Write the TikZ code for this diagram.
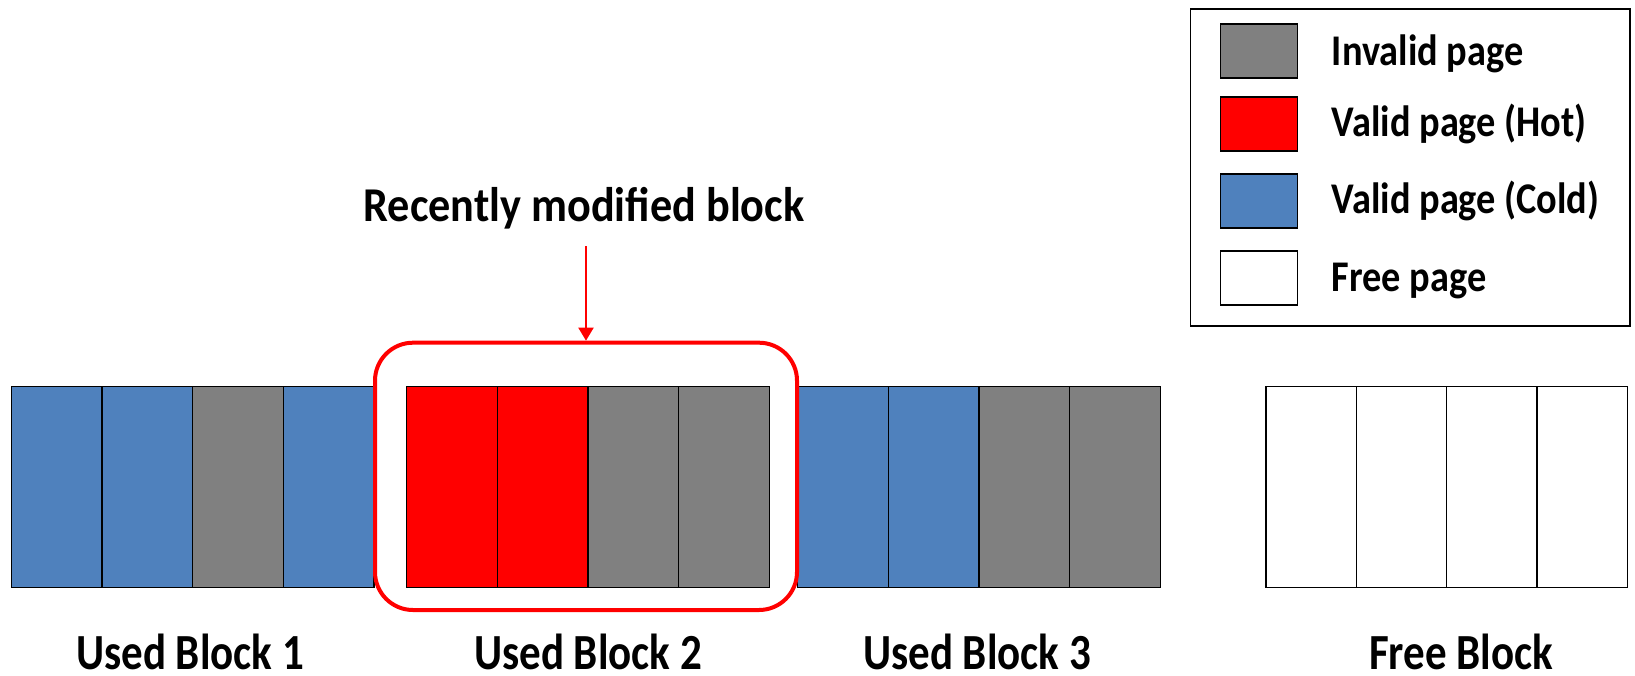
\documentclass[tikz,border=0pt]{standalone}
\usepackage{fontspec}
\setmainfont{Carlito}
\newfontfamily\legfont[FakeStretch=0.875]{Carlito}
\newfontfamily\titfont[FakeStretch=0.91]{Carlito}
\newfontfamily\blkfont[FakeStretch=0.85]{Carlito}
\usetikzlibrary{arrows.meta}
\definecolor{cold}{HTML}{4F81BD}
\definecolor{invalid}{HTML}{808080}
\definecolor{hot}{HTML}{FF0000}
\begin{document}
\begin{tikzpicture}[x=1pt,y=-1pt,
  page/.style={draw=black,line width=1.4pt,minimum width=90.6pt,minimum height=200.6pt,
    inner sep=0pt,outer sep=0pt,anchor=north west},
  swatch/.style={draw=black,line width=1.4pt,minimum width=76.6pt,minimum height=54pt,
    inner sep=0pt,outer sep=0pt,anchor=north west},
  legtext/.style={anchor=base west,inner sep=0pt,font=\legfont\bfseries\fontsize{43.8}{50}\selectfont},
  blklabel/.style={anchor=base,inner sep=0pt,font=\blkfont\bfseries\fontsize{50.6}{60}\selectfont},
  titletext/.style={anchor=base,inner sep=0pt,font=\titfont\bfseries\fontsize{48.6}{56}\selectfont},
  hlbox/.style={draw=hot,line width=4pt,rounded corners=38pt,minimum width=422pt,minimum height=267.3pt,inner sep=0pt},
  hlarrow/.style={draw=hot,line width=2pt,-{Triangle[width=15pt,length=13pt]}}
]
\useasboundingbox (0,0) rectangle (1635,675);

% blocks
\foreach \c [count=\i] in {cold,cold,invalid,cold}
  \node[page,fill=\c] (b1p\i) at ({11.3+(\i-1)*90.65},386.7) {};
\foreach \c [count=\i] in {hot,hot,invalid,invalid}
  \node[page,fill=\c] (b2p\i) at ({406.7+(\i-1)*90.65},386.7) {};
\foreach \c [count=\i] in {cold,cold,invalid,invalid}
  \node[page,fill=\c] (b3p\i) at ({797.7+(\i-1)*90.65},386.7) {};
\foreach \c [count=\i] in {white,white,white,white}
  \node[page,fill=\c] (fbp\i) at ({1266+(\i-1)*90.3},386.7) {};

% highlight
\node[hlbox] (hl) at (586,476.35) {};
\node[titletext] (title) at (584,221.7) {Recently modified block};
\coordinate (astart) at (586,246);
\draw[hlarrow] (astart) -- (hl.north);

% block labels
\node[blklabel] (l1) at (190,669.5) {Used Block 1};
\node[blklabel] (l2) at (588,669.5) {Used Block 2};
\node[blklabel] (l3) at (977,669.5) {Used Block 3};
\node[blklabel] (l4) at (1461,669.5) {Free Block};

% legend
\node[draw=black,line width=1.5pt,minimum width=439.3pt,minimum height=317pt,inner sep=0pt,
  outer sep=0pt,anchor=north west] (legend) at (1190.7,9) {};
\node[swatch,fill=invalid] (s1) at (1220.7,24) {};
\node[swatch,fill=hot] (s2) at (1220.7,97) {};
\node[swatch,fill=cold] (s3) at (1220.7,174) {};
\node[swatch,fill=white] (s4) at (1220.7,251) {};
\node[legtext] (t1) at (1331.7,65) {Invalid page};
\node[legtext] (t2) at (1331.7,136.7) {Valid page (Hot)};
\node[legtext] (t3) at (1331.7,213) {Valid page (Cold)};
\node[legtext] (t4) at (1331.7,291.7) {Free page};
\end{tikzpicture}
\end{document}
